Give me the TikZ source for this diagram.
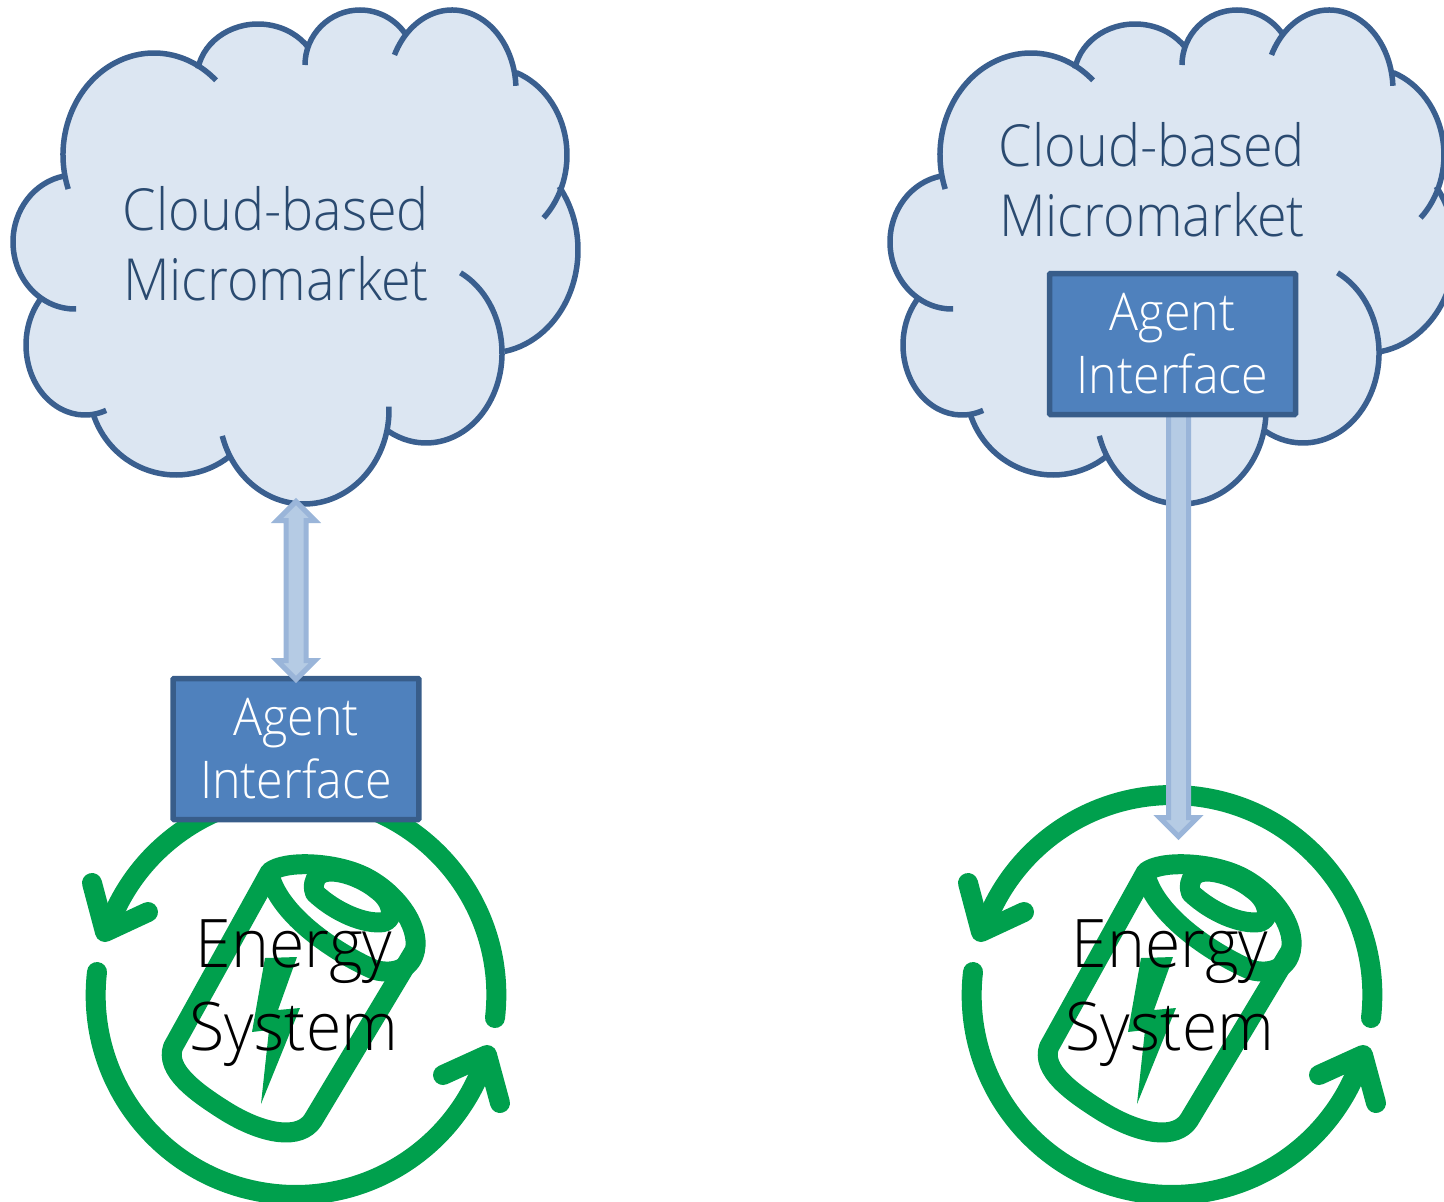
\documentclass[tikz,border=0pt]{standalone}
\usepackage{fontspec}
\setmainfont{Open Sans Light}
\usetikzlibrary{calc}
\definecolor{cloudfill}{HTML}{DCE6F2}
\definecolor{cloudedge}{HTML}{3A5F8F}
\definecolor{cloudtext}{HTML}{2A4A70}
\definecolor{boxfill}{HTML}{4F81BD}
\definecolor{boxedge}{HTML}{385D8A}
\definecolor{arrowfill}{HTML}{B5CBE4}
\definecolor{arrowedge}{HTML}{9AB5D9}
\definecolor{icongreen}{HTML}{00A04D}
\tikzset{
  cloudlabel/.style={text=cloudtext,align=center,font=\fontsize{58}{70}\selectfont,inner sep=0pt,xscale=0.93,transform shape},
  agentbox/.style={draw=boxedge,fill=boxfill,line width=5.5pt,rounded corners=1pt,minimum width=264.5pt,minimum height=141pt,text=white,align=center,inner sep=0pt,xscale=0.93,transform shape},
  agenttext/.style={font=\fontsize{52}{63}\selectfont},
  energylabel/.style={text=black,align=center,font=\fontsize{67}{83}\selectfont,inner sep=0pt,xscale=0.96,transform shape},
  greenline/.style={draw=icongreen,line width=20pt,line cap=round,line join=round},
  blockboth/.style={draw=arrowedge,fill=arrowfill,line width=5pt,miter limit=10,
    to path={-- ($(\tikztostart)+(19,19)$) -- ($(\tikztostart)+(10,19)$) -- ($(\tikztotarget)+(10,-19)$) -- ($(\tikztotarget)+(19,-19)$) -- (\tikztotarget) -- ($(\tikztotarget)+(-19,-19)$) -- ($(\tikztotarget)+(-10,-19)$) -- ($(\tikztostart)+(-10,19)$) -- ($(\tikztostart)+(-19,19)$) -- cycle}},
  blockdown/.style={draw=arrowedge,fill=arrowfill,line width=5pt,miter limit=10,
    to path={-- ($(\tikztostart)+(10,0)$) -- ($(\tikztotarget)+(10,-19)$) -- ($(\tikztotarget)+(19,-19)$) -- (\tikztotarget) -- ($(\tikztotarget)+(-19,-19)$) -- ($(\tikztotarget)+(-10,-19)$) -- ($(\tikztostart)+(-10,0)$) -- cycle}}
}
% one cloud lobe: style, centre x, centre y, x radius, y radius, start and end angle
\newcommand{\lobe}[7]{\path[#1] ([shift={(#2,#3)}]#6:#4 and #5) arc[start angle=#6,end angle=#7,x radius=#4,y radius=#5];}
\newcommand{\lobes}[1]{%
  \lobe{#1}{154}{155}{91}{102}{160.5}{313}
  \lobe{#1}{258}{78}{61}{54}{190}{326}
  \lobe{#1}{360}{65}{55}{55}{180}{326}
  \lobe{#1}{452}{90}{64}{80}{206}{357}
  \lobe{#1}{489}{155}{78}{88}{290.6}{405.6}
  \lobe{#1}{489}{250}{89}{103}{322}{440}
  \lobe{#1}{426}{353}{76}{90}{297}{479.6}
  \lobe{#1}{304}{410}{85}{94}{-2}{164}
  \lobe{#1}{176}{387}{87}{88}{52}{163}
  \lobe{#1}{85}{345}{59}{70}{69}{223}
  \lobe{#1}{75}{242}{62}{67}{89}{260}
}
\newcommand{\cloudart}{%
  \lobes{fill=cloudfill,draw=cloudfill,line width=1pt}
  \path[fill=cloudfill,draw=cloudfill,line width=1pt] (63,175)--(198,68)--(308,48)--(405,35)--(518,73)--(563,185)--(506,353)--(389,430)--(230,458)--(91,413)--(44,300)--cycle;
  \lobes{draw=cloudedge,line width=5.5pt}
}
\newcommand{\iconart}{%
  \draw[greenline] (495,1018) arc[start angle=6.6,end angle=-161,radius=200];
  \draw[greenline] (92,883) -- (105,932) -- (148,912);
  \draw[greenline] (97,972) arc[start angle=186.6,end angle=19,radius=200];
  \draw[greenline] (443,1075) -- (487,1055) -- (500,1103);
  \draw[greenline] (270,872) .. controls (285,860) and (335,862) .. (365,877) .. controls (395,892) and (420,925) .. (415,950)
     -- (313,1120) .. controls (300,1140) and (265,1135) .. (227,1112) .. controls (195,1092) and (165,1070) .. (173,1047) -- cycle;
  \draw[greenline] (271,880) .. controls (285,920) and (340,955) .. (375,970) .. controls (395,975) and (412,968) .. (415,950);
  \draw[greenline] (315,893) .. controls (335,912) and (365,925) .. (384,922) .. controls (396,918) and (392,900) .. (376,889) .. controls (360,876) and (330,866) .. (319,875) .. controls (313,880) and (313,888) .. (315,893);
  \fill[icongreen] (265,958)--(297,957)--(278,1010)--(300,1008)--(261,1104)--(269,1030)--(252,1032)--cycle;
}
\begin{document}
\begin{tikzpicture}[x=1pt,y=-1pt]
\useasboundingbox (0,0) rectangle (1444,1202);
\clip (0,0) rectangle (1444,1202);
% energy icons
\iconart
\begin{scope}[shift={(876,0)}]\iconart\end{scope}
% clouds
\cloudart
\begin{scope}[shift={(877,0)}]\cloudart\end{scope}
\node[cloudlabel] (cloudtextL) at (276,243.5) {Cloud-based\\Micromarket};
\node[cloudlabel] (cloudtextR) at (1152,179.5) {Cloud-based\\Micromarket};
\coordinate (cloudtipL) at (296,501.5);
\coordinate (boxtopL) at (296,679.5);
\coordinate (boxbottomR) at (1178.5,405);
\coordinate (energytopR) at (1178.5,836.5);
% right connector passes under its box
\draw[blockdown] (boxbottomR) to (energytopR);
\node[agentbox,agenttext] (agentL) at (296,749) {Agent\\Interface};
\node[agentbox,agenttext] (agentR) at (1172.5,344) {Agent\\Interface};
\draw[blockboth] (cloudtipL) to (boxtopL);
\node[energylabel] (energyL) at (294,993) {Energy\\System};
\node[energylabel] (energyR) at (1170,993) {Energy\\System};
\end{tikzpicture}
\end{document}
